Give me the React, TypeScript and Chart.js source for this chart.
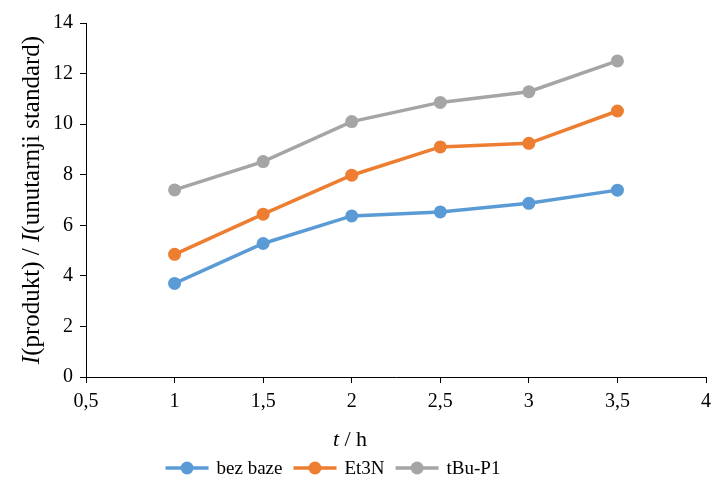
import React, { useEffect, useRef } from "react";
import { Chart, registerables } from "chart.js";

Chart.register(...registerables);

const xValues = [1, 1.5, 2, 2.5, 3, 3.5];
const bezBaze = [3.7, 5.28, 6.37, 6.53, 6.87, 7.39];
const et3n = [4.85, 6.44, 7.98, 9.1, 9.24, 10.52];
const tbuP1 = [7.4, 8.52, 10.1, 10.86, 11.28, 12.5];

const seriesNames = ["bez baze", "Et3N", "tBu-P1"];
const seriesColors = ["#5B9BD5", "#ED7D31", "#A5A5A5"];
const xTicks = [0.5, 1, 1.5, 2, 2.5, 3, 3.5, 4];
const yTicks = [0, 2, 4, 6, 8, 10, 12, 14];

const FONT = "'Liberation Serif', 'Times New Roman', serif";

const titlesAndLegend = {
  id: "titlesAndLegend",
  afterDraw(chart: any) {
    const ctx = chart.ctx as CanvasRenderingContext2D;
    const area = chart.chartArea;
    ctx.save();
    ctx.fillStyle = "#000";
    ctx.textBaseline = "middle";

    // Y axis title (rotated, mixed italic)
    const yParts: [string, boolean][] = [
      ["I", true],
      ["(produkt) / ", false],
      ["I", true],
      ["(unutarnji standard)", false],
    ];
    const ySize = 25;
    let total = 0;
    for (const [t, it] of yParts) {
      ctx.font = `${it ? "italic " : ""}${ySize}px ${FONT}`;
      total += ctx.measureText(t).width;
    }
    ctx.translate(32, (area.top + area.bottom) / 2);
    ctx.rotate(-Math.PI / 2);
    let px = -total / 2;
    ctx.textAlign = "left";
    for (const [t, it] of yParts) {
      ctx.font = `${it ? "italic " : ""}${ySize}px ${FONT}`;
      ctx.fillText(t, px, 0);
      px += ctx.measureText(t).width;
    }
    ctx.setTransform(1, 0, 0, 1, 0, 0);

    // X axis title
    const xParts: [string, boolean][] = [
      ["t", true],
      [" / h", false],
    ];
    const xSize = 22;
    total = 0;
    for (const [t, it] of xParts) {
      ctx.font = `${it ? "italic " : ""}${xSize}px ${FONT}`;
      total += ctx.measureText(t).width;
    }
    px = 350 - total / 2;
    for (const [t, it] of xParts) {
      ctx.font = `${it ? "italic " : ""}${xSize}px ${FONT}`;
      ctx.fillText(t, px, 440);
      px += ctx.measureText(t).width;
    }

    // Legend
    const lSize = 19;
    ctx.font = `${lSize}px ${FONT}`;
    const lineLen = 43;
    const gapText = 8;
    const gapItem = 11;
    let legendW = 0;
    seriesNames.forEach((n, i) => {
      legendW += lineLen + gapText + ctx.measureText(n).width;
      if (i < seriesNames.length - 1) legendW += gapItem;
    });
    let lx = 333 - legendW / 2;
    const ly = 468;
    seriesNames.forEach((n, i) => {
      ctx.strokeStyle = seriesColors[i];
      ctx.lineWidth = 3.5;
      ctx.beginPath();
      ctx.moveTo(lx, ly);
      ctx.lineTo(lx + lineLen, ly);
      ctx.stroke();
      ctx.fillStyle = seriesColors[i];
      ctx.beginPath();
      ctx.arc(lx + lineLen / 2, ly, 6.5, 0, Math.PI * 2);
      ctx.fill();
      ctx.fillStyle = "#000";
      ctx.fillText(n, lx + lineLen + gapText, ly + 1);
      lx += lineLen + gapText + ctx.measureText(n).width + gapItem;
    });
    ctx.restore();
  },
};

export default function App() {
  const ref = useRef<HTMLCanvasElement>(null);
  useEffect(() => {
    if (!ref.current) return;
    const all = [bezBaze, et3n, tbuP1];
    const chart = new Chart(ref.current, {
      type: "line",
      data: {
        datasets: all.map((vals, i) => ({
          label: seriesNames[i],
          data: xValues.map((x, j) => ({ x, y: vals[j] })),
          borderColor: seriesColors[i],
          backgroundColor: seriesColors[i],
          borderWidth: 3.5,
          pointRadius: 6.5,
          pointHoverRadius: 6.5,
          pointBorderWidth: 0,
          tension: 0,
        })),
      },
      options: {
        animation: false,
        responsive: true,
        maintainAspectRatio: false,
        layout: { padding: { left: 40, top: 23, right: 0, bottom: 65 } },
        plugins: {
          legend: { display: false },
          tooltip: { enabled: false },
        },
        scales: {
          x: {
            type: "linear",
            min: 0.5,
            max: 4,
            afterBuildTicks: (s: any) => {
              s.ticks = xTicks.map((v) => ({ value: v }));
            },
            afterFit: (s: any) => {
              s.height = 40;
              s.paddingRight = 7;
            },
            ticks: {
              color: "#000",
              font: { family: FONT, size: 20 },
              padding: 7,
              maxRotation: 0,
              callback: (v: any) => String(v).replace(".", ","),
            },
            grid: {
              display: true,
              drawOnChartArea: false,
              drawTicks: true,
              tickLength: 6,
              color: "#000",
            },
            border: { display: true, color: "#000", width: 1 },
          },
          y: {
            min: 0,
            max: 14,
            afterBuildTicks: (s: any) => {
              s.ticks = yTicks.map((v) => ({ value: v }));
            },
            afterFit: (s: any) => {
              s.width = 46;
              s.paddingTop = 0;
              s.paddingBottom = 0;
            },
            ticks: {
              color: "#000",
              font: { family: FONT, size: 20 },
              padding: 7,
            },
            grid: {
              display: true,
              drawOnChartArea: false,
              drawTicks: true,
              tickLength: 6,
              color: "#000",
            },
            border: { display: true, color: "#000", width: 1 },
          },
        },
      },
      plugins: [titlesAndLegend],
    });
    return () => chart.destroy();
  }, []);
  return (
    <div style={{ position: "fixed", left: 0, top: 0, width: 713, height: 482, background: "#fff" }}>
      <canvas ref={ref} />
    </div>
  );
}
